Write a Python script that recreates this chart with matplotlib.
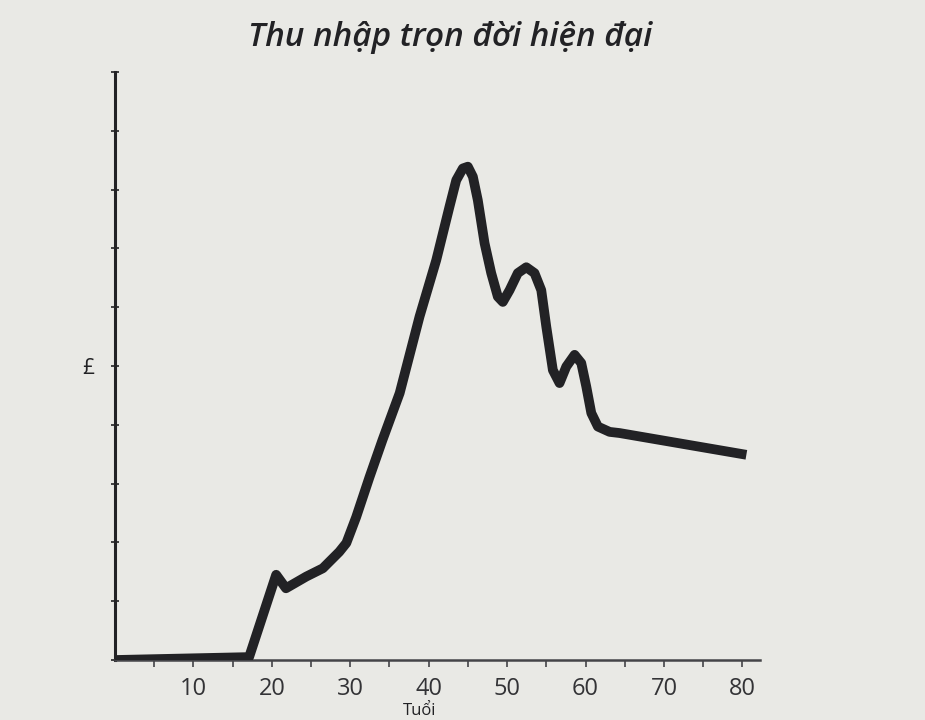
import matplotlib.pyplot as plt

# Lifetime income curve (age in years, income in axis units)
ages = [0, 17.1, 20.55, 21.8, 24.4, 26.5, 28.6, 29.5, 30.75, 32.45, 34.1,
        36.3, 38.83, 40.96, 42.65, 43.51, 44.35, 44.99, 45.63, 46.26, 47.12,
        47.97, 48.81, 49.45, 50.31, 51.36, 52.44, 53.49, 54.35, 54.99, 55.83,
        56.68, 57.54, 58.6, 59.45, 60.09, 60.73, 61.57, 63.06, 64.34, 80.5]
income = [0, 0.05, 1.45, 1.22, 1.42, 1.56, 1.84, 1.99, 2.43, 3.11, 3.74,
          4.54, 5.84, 6.8, 7.71, 8.16, 8.36, 8.39, 8.22, 7.82, 7.09,
          6.58, 6.18, 6.09, 6.29, 6.58, 6.68, 6.58, 6.29, 5.67, 4.93,
          4.71, 4.99, 5.19, 5.05, 4.65, 4.2, 3.97, 3.88, 3.86, 3.49]

x_ticks = [10, 20, 30, 40, 50, 60, 70, 80]
y_ticks = list(range(0, 11))
y_labels = ['' if v != 5 else '£' for v in y_ticks]

title = 'Thu nhập trọn đời hiện đại'
x_label = 'Tuổi'

bg = '#e9e9e5'
ink = '#222225'

plt.rcParams['font.family'] = ['Open Sans', 'DejaVu Sans']

fig = plt.figure(figsize=(9.25, 7.2), dpi=100, facecolor=bg)
ax = fig.add_axes([0.1243, 0.0833, 0.697, 0.8167], facecolor=bg)

ax.plot(ages, income, color=ink, lw=7, solid_joinstyle='round',
        solid_capstyle='butt', zorder=3)

ax.set_xlim(0, 82.2)
ax.set_ylim(0, 10)

ax.spines['top'].set_visible(False)
ax.spines['right'].set_visible(False)
ax.spines['left'].set_linewidth(2.2)
ax.spines['bottom'].set_linewidth(1.8)
ax.spines['left'].set_color(ink)
ax.spines['bottom'].set_color('#444448')

ax.set_xticks(x_ticks)
ax.set_xticks([v for v in range(5, 81, 10)], minor=True)
ax.tick_params(axis='x', which='both', direction='out', length=5, width=1.2,
               color='#444448', labelsize=17, labelcolor='#333336', pad=7)

ax.set_yticks(y_ticks)
ax.set_yticklabels(y_labels)
ax.tick_params(axis='y', direction='inout', length=6, width=1.2, color=ink,
               labelsize=15, labelcolor=ink, pad=12)

fig.text(450 / 925, 1 - 38 / 720, title, ha='center', va='center',
         fontsize=24, style='italic', weight='semibold', color=ink)
# axis title sits at the very bottom edge, as in the photographed page
fig.text(420 / 925, 1 - 719 / 720, x_label, ha='center', va='bottom',
         fontsize=12, color=ink)

fig.savefig('out.png', dpi=100, facecolor=bg)
